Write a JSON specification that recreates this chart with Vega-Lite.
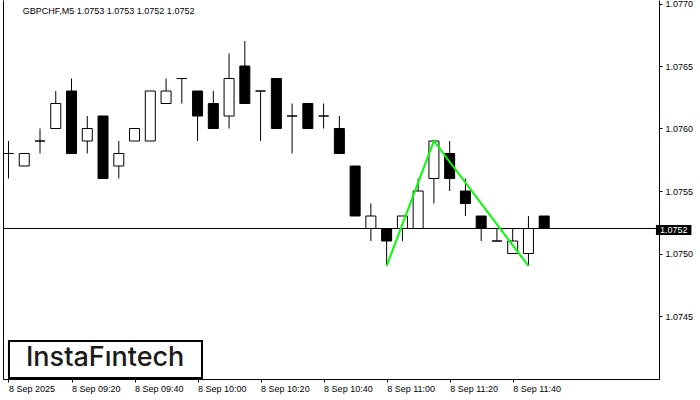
{
  "$schema": "https://vega.github.io/schema/vega-lite/v6.json",
  "width": 656,
  "height": 379,
  "autosize": "none",
  "padding": {"left": 3, "top": 0, "right": 41, "bottom": 21},
  "background": "white",
  "config": {
    "view": {"stroke": null},
    "axis": {"labelFont": "Liberation Sans", "labelFontSize": 9, "labelColor": "black", "domainColor": "black", "tickColor": "black", "grid": false, "title": null}
  },
  "datasets": {
    "candles": [
      {"t": "2025-09-08T09:00", "o": 1.0758, "h": 1.0759, "l": 1.0756, "c": 1.0758},
      {"t": "2025-09-08T09:05", "o": 1.0757, "h": 1.0758, "l": 1.0757, "c": 1.0758},
      {"t": "2025-09-08T09:10", "o": 1.0759, "h": 1.0760, "l": 1.0758, "c": 1.0759},
      {"t": "2025-09-08T09:15", "o": 1.0760, "h": 1.0763, "l": 1.0760, "c": 1.0762},
      {"t": "2025-09-08T09:20", "o": 1.0763, "h": 1.0764, "l": 1.0758, "c": 1.0758},
      {"t": "2025-09-08T09:25", "o": 1.0759, "h": 1.0761, "l": 1.0758, "c": 1.0760},
      {"t": "2025-09-08T09:30", "o": 1.0761, "h": 1.0761, "l": 1.0756, "c": 1.0756},
      {"t": "2025-09-08T09:35", "o": 1.0757, "h": 1.0759, "l": 1.0756, "c": 1.0758},
      {"t": "2025-09-08T09:40", "o": 1.0759, "h": 1.0760, "l": 1.0759, "c": 1.0760},
      {"t": "2025-09-08T09:45", "o": 1.0759, "h": 1.0763, "l": 1.0759, "c": 1.0763},
      {"t": "2025-09-08T09:50", "o": 1.0762, "h": 1.0764, "l": 1.0762, "c": 1.0763},
      {"t": "2025-09-08T09:55", "o": 1.0764, "h": 1.0764, "l": 1.0762, "c": 1.0764},
      {"t": "2025-09-08T10:00", "o": 1.0763, "h": 1.0763, "l": 1.0759, "c": 1.0761},
      {"t": "2025-09-08T10:05", "o": 1.0762, "h": 1.0763, "l": 1.0760, "c": 1.0760},
      {"t": "2025-09-08T10:10", "o": 1.0761, "h": 1.0766, "l": 1.0760, "c": 1.0764},
      {"t": "2025-09-08T10:15", "o": 1.0765, "h": 1.0767, "l": 1.0762, "c": 1.0762},
      {"t": "2025-09-08T10:20", "o": 1.0763, "h": 1.0763, "l": 1.0759, "c": 1.0763},
      {"t": "2025-09-08T10:25", "o": 1.0764, "h": 1.0764, "l": 1.0760, "c": 1.0760},
      {"t": "2025-09-08T10:30", "o": 1.0761, "h": 1.0762, "l": 1.0758, "c": 1.0761},
      {"t": "2025-09-08T10:35", "o": 1.0762, "h": 1.0762, "l": 1.0760, "c": 1.0760},
      {"t": "2025-09-08T10:40", "o": 1.0761, "h": 1.0762, "l": 1.0760, "c": 1.0761},
      {"t": "2025-09-08T10:45", "o": 1.0760, "h": 1.0761, "l": 1.0758, "c": 1.0758},
      {"t": "2025-09-08T10:50", "o": 1.0757, "h": 1.0757, "l": 1.0753, "c": 1.0753},
      {"t": "2025-09-08T10:55", "o": 1.0752, "h": 1.0754, "l": 1.0751, "c": 1.0753},
      {"t": "2025-09-08T11:00", "o": 1.0752, "h": 1.0752, "l": 1.0749, "c": 1.0751},
      {"t": "2025-09-08T11:05", "o": 1.0752, "h": 1.0753, "l": 1.0751, "c": 1.0753},
      {"t": "2025-09-08T11:10", "o": 1.0752, "h": 1.0756, "l": 1.0752, "c": 1.0755},
      {"t": "2025-09-08T11:15", "o": 1.0756, "h": 1.0759, "l": 1.0754, "c": 1.0759},
      {"t": "2025-09-08T11:20", "o": 1.0758, "h": 1.0759, "l": 1.0755, "c": 1.0756},
      {"t": "2025-09-08T11:25", "o": 1.0755, "h": 1.0756, "l": 1.0753, "c": 1.0754},
      {"t": "2025-09-08T11:30", "o": 1.0753, "h": 1.0753, "l": 1.0751, "c": 1.0752},
      {"t": "2025-09-08T11:35", "o": 1.0751, "h": 1.0752, "l": 1.0751, "c": 1.0751},
      {"t": "2025-09-08T11:40", "o": 1.0750, "h": 1.0752, "l": 1.0750, "c": 1.0751},
      {"t": "2025-09-08T11:45", "o": 1.0750, "h": 1.0753, "l": 1.0749, "c": 1.0752},
      {"t": "2025-09-08T11:50", "o": 1.0753, "h": 1.0753, "l": 1.0752, "c": 1.0752}
    ],
    "pattern": [
      {"t": "2025-09-08T11:00", "p": 1.0749},
      {"t": "2025-09-08T11:15", "p": 1.0759},
      {"t": "2025-09-08T11:45", "p": 1.0749}
    ]
  },
  "resolve": {"scale": {"y": "shared", "x": "shared"}, "axis": {"y": "independent"}},
  "layer": [
    {
      "data": {"name": "candles"},
      "mark": {"type": "rule", "color": "black", "strokeWidth": 1, "clip": true},
      "encoding": {
        "x": {
          "field": "t", "type": "temporal",
          "scale": {"domain": [
            {"year": 2025, "month": 9, "date": 8, "hours": 8, "minutes": 59, "seconds": 50, "milliseconds": 625},
            {"year": 2025, "month": 9, "date": 8, "hours": 12, "minutes": 24, "seconds": 50, "milliseconds": 625}
          ]},
          "axis": {
            "values": [
              {"year": 2025, "month": 9, "date": 8, "hours": 9, "minutes": 0},
              {"year": 2025, "month": 9, "date": 8, "hours": 9, "minutes": 20},
              {"year": 2025, "month": 9, "date": 8, "hours": 9, "minutes": 40},
              {"year": 2025, "month": 9, "date": 8, "hours": 10, "minutes": 0},
              {"year": 2025, "month": 9, "date": 8, "hours": 10, "minutes": 20},
              {"year": 2025, "month": 9, "date": 8, "hours": 10, "minutes": 40},
              {"year": 2025, "month": 9, "date": 8, "hours": 11, "minutes": 0},
              {"year": 2025, "month": 9, "date": 8, "hours": 11, "minutes": 20},
              {"year": 2025, "month": 9, "date": 8, "hours": 11, "minutes": 40}
            ],
            "labelExpr": "timeFormat(datum.value, '%H:%M') == '09:00' ? '8 Sep 2025' : timeFormat(datum.value, '%-d %b %H:%M')",
            "labelAlign": "left",
            "labelBaseline": "top",
            "labelPadding": 2,
            "labelFlush": false,
            "labelOverlap": false,
            "tickSize": 3
          }
        },
        "y": {
          "field": "l", "type": "quantitative",
          "scale": {"domain": [1.073996, 1.077028], "zero": false, "nice": false},
          "axis": {
            "orient": "right",
            "values": [1.0745, 1.075, 1.0755, 1.076, 1.0765, 1.077],
            "format": ".4f",
            "tickSize": 3,
            "labelPadding": 3,
            "labelAlign": "left",
            "labelBaseline": "middle",
            "labelFlush": 5,
            "labelFlushOffset": 0
          }
        },
        "y2": {"field": "h"}
      }
    },
    {
      "data": {"name": "candles"},
      "mark": {"type": "bar", "size": 10, "stroke": "black", "strokeWidth": 1, "clip": true},
      "encoding": {
        "x": {"field": "t", "type": "temporal"},
        "y": {"field": "o", "type": "quantitative", "axis": null},
        "y2": {"field": "c"},
        "fill": {"condition": {"test": "datum.c < datum.o", "value": "black"}, "value": "white"}
      }
    },
    {
      "data": {"values": [{"price": 1.0752}]},
      "mark": {"type": "rule", "color": "black", "strokeWidth": 1},
      "encoding": {
        "y": {"field": "price", "type": "quantitative", "axis": {"orient": "left", "labels": false, "ticks": false, "domain": true}}
      }
    },
    {
      "data": {"name": "pattern"},
      "mark": {"type": "line", "color": "#00ff00", "strokeWidth": 2, "clip": true},
      "encoding": {
        "x": {"field": "t", "type": "temporal"},
        "y": {"field": "p", "type": "quantitative", "axis": null}
      }
    },
    {
      "data": {"values": [{"label": "1.0752"}]},
      "mark": {"type": "rect", "color": "black", "clip": false},
      "encoding": {
        "x": {"datum": {"year": 2025, "month": 9, "date": 8, "hours": 12, "minutes": 25, "seconds": 28}, "type": "temporal"},
        "x2": {"datum": {"year": 2025, "month": 9, "date": 8, "hours": 12, "minutes": 36, "seconds": 43}},
        "y": {"datum": 1.075228, "type": "quantitative", "axis": null},
        "y2": {"datum": 1.075148}
      }
    },
    {
      "data": {"values": [{"label": "1.0752"}]},
      "mark": {"type": "text", "color": "white", "align": "left", "baseline": "middle", "font": "Liberation Sans", "fontSize": 9, "clip": false},
      "encoding": {
        "x": {"datum": {"year": 2025, "month": 9, "date": 8, "hours": 12, "minutes": 26, "seconds": 43}, "type": "temporal"},
        "y": {"datum": 1.07519, "type": "quantitative", "axis": null},
        "text": {"field": "label"}
      }
    },
    {
      "data": {"values": [{"label": "GBPCHF,M5  1.0753 1.0753 1.0752 1.0752"}]},
      "mark": {"type": "text", "color": "black", "align": "left", "baseline": "middle", "font": "Liberation Sans", "fontSize": 9},
      "encoding": {
        "x": {"datum": {"year": 2025, "month": 9, "date": 8, "hours": 9, "minutes": 4, "seconds": 32}, "type": "temporal"},
        "y": {"datum": 1.07694, "type": "quantitative", "axis": null},
        "text": {"field": "label"}
      }
    },
    {
      "data": {"values": [{"label": "InstaFıntech"}]},
      "mark": {"type": "rect", "fill": "white", "stroke": "black", "strokeWidth": 2},
      "encoding": {
        "x": {"datum": {"year": 2025, "month": 9, "date": 8, "hours": 9, "minutes": 0, "seconds": 9}, "type": "temporal"},
        "x2": {"datum": {"year": 2025, "month": 9, "date": 8, "hours": 10, "minutes": 1, "seconds": 24}},
        "y": {"datum": 1.0743, "type": "quantitative", "axis": null},
        "y2": {"datum": 1.074004}
      }
    },
    {
      "data": {"values": [{"label": "InstaFıntech"}]},
      "mark": {"type": "text", "color": "#1a1a1a", "align": "center", "baseline": "middle", "font": "Inter", "fontSize": 27, "fontWeight": 500},
      "encoding": {
        "x": {"datum": {"year": 2025, "month": 9, "date": 8, "hours": 9, "minutes": 30, "seconds": 41}, "type": "temporal"},
        "y": {"datum": 1.074168, "type": "quantitative", "axis": null},
        "text": {"field": "label"}
      }
    }
  ]
}
